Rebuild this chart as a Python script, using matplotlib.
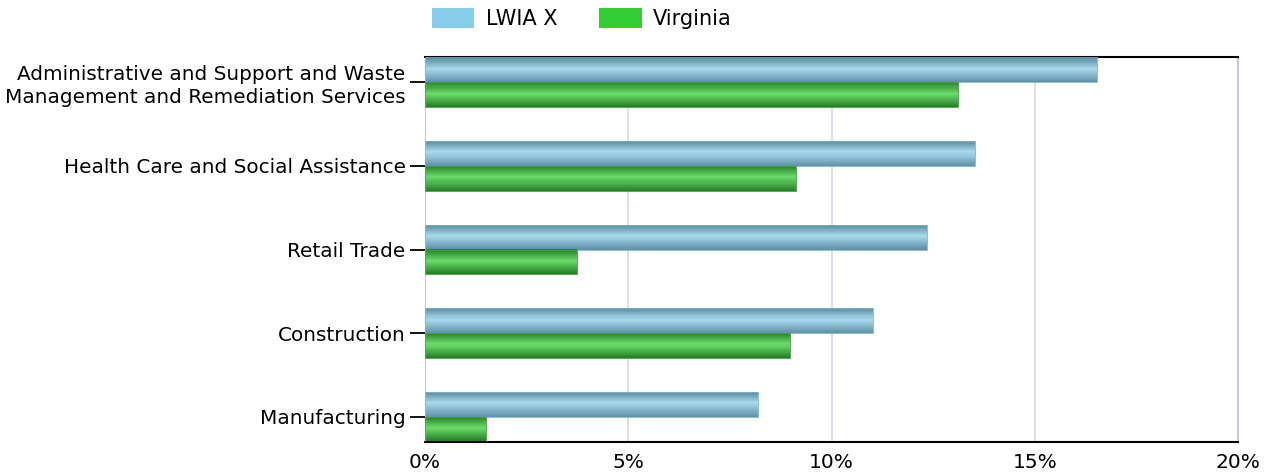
import numpy as np
import matplotlib
matplotlib.use('Agg')
import matplotlib.pyplot as plt
from matplotlib.colors import LinearSegmentedColormap
from matplotlib.patches import Patch

# Data (percent)
categories = [
    'Administrative and Support and Waste\nManagement and Remediation Services',
    'Health Care and Social Assistance',
    'Retail Trade',
    'Construction',
    'Manufacturing',
]
lwia_x = [16.53, 13.52, 12.36, 11.01, 8.18]
virginia = [13.11, 9.12, 3.75, 8.98, 1.49]
x_ticks = [0, 5, 10, 15, 20]
x_tick_labels = ['0%', '5%', '10%', '15%', '20%']

fig = plt.figure(figsize=(12.74, 4.74), dpi=100, facecolor='white')
ax = fig.add_axes([425 / 1274, 1 - 442 / 474, (1238 - 425) / 1274, (442 - 57) / 474])

bar_h = 0.298
pos = np.arange(len(categories))

# gradient colormaps (darker edges, lighter middle)
blue_cmap = LinearSegmentedColormap.from_list(
    'b', [(0, '#5a8a9e'), (0.45, '#aad9ee'), (1, '#5f91a6')])
green_cmap = LinearSegmentedColormap.from_list(
    'g', [(0, '#268226'), (0.45, '#6cdc6c'), (1, '#227e22')])

def gradient_bars(ys, vals, cmap, edge):
    # stack of thin slices, top of bar (smaller y, axis inverted) = cmap(0)
    n = 24
    sl = bar_h / n
    for i in range(n):
        c = cmap((i + 0.5) / n)
        off = -bar_h / 2 + (i + 0.5) * sl
        ax.barh(ys + off, vals, height=sl * 1.02, color=c, linewidth=0, zorder=2)
    ax.barh(ys, vals, height=bar_h, color='none', edgecolor=edge,
            linewidth=0.6, zorder=3)

gradient_bars(pos - bar_h / 2, lwia_x, blue_cmap, '#80b2c6')
gradient_bars(pos + bar_h / 2, virginia, green_cmap, '#3a9a3a')

ax.set_xlim(0, 20)
ax.set_ylim(len(categories) - 1 + bar_h + 0.005, -bar_h - 0.005)

ax.set_xticks(x_ticks)
ax.set_xticklabels(x_tick_labels, fontsize=14.5)
ax.tick_params(axis='x', length=0, pad=8)
ax.set_yticks(pos)
ax.set_yticklabels(categories, fontsize=14.4, linespacing=1.25)
ax.tick_params(axis='y', length=11, width=1.3, color='black', pad=3)

ax.grid(axis='x', color='#d8d8ee', linewidth=1.2, zorder=0)
ax.set_axisbelow(True)
ax.spines['top'].set_color('black')
ax.spines['top'].set_linewidth(1.5)
ax.spines['bottom'].set_color('black')
ax.spines['bottom'].set_linewidth(1.5)
ax.spines['left'].set_color('#c8c8dc')
ax.spines['right'].set_color('#c8c8dc')
ax.spines['right'].set_linewidth(1.5)

legend_elements = [
    Patch(facecolor='#87ceeb', label='LWIA X'),
    Patch(facecolor='#32cd32', label='Virginia'),
]
fig.legend(handles=legend_elements, loc='upper left', bbox_to_anchor=(419 / 1274, 1.01),
           ncol=2, frameon=False, fontsize=15, handlelength=2.05, handleheight=1.1,
           columnspacing=2.0, handletextpad=0.55, borderaxespad=0.2)

plt.savefig('out.png', dpi=100, facecolor='white')
plt.close()
